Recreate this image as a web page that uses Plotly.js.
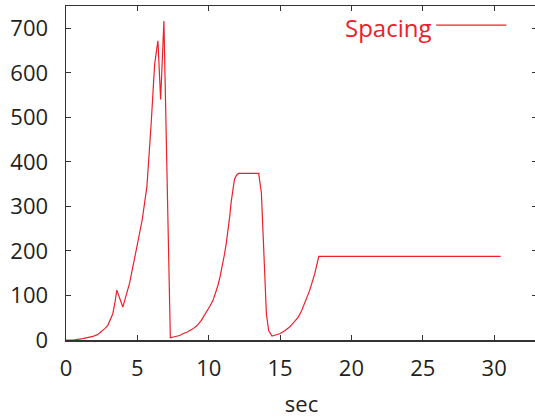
<!DOCTYPE html>
<html>
<head>
<meta charset="utf-8">
<script src="https://cdn.plot.ly/plotly-3.0.1.min.js"></script>
<style>
html,body{margin:0;padding:0;overflow:hidden;background:#fff;}
#chart{width:537px;height:420px;}
</style>
</head>
<body>
<div id="chart"></div>
<script>
// time (sec)
const timeSec = [0, 0.6, 1.18, 1.55, 1.88, 2.2, 2.47, 2.7, 2.93, 3.1, 3.28, 3.42, 3.56, 3.98, 4.45, 4.92, 5.15, 5.34, 5.67, 5.86, 5.97, 6.21, 6.44, 6.63, 6.86, 7.31,
  7.96, 8.19, 8.5, 8.89, 9.2, 9.48, 9.7, 9.95, 10.1, 10.3, 10.5, 10.65, 10.8, 10.99, 11.1, 11.23, 11.35, 11.47, 11.58, 11.7, 11.8, 11.89, 12.0, 12.12, 13.5, 13.69, 13.8, 13.92, 14.04, 14.2, 14.43,
  14.97, 15.3, 15.67, 16.0, 16.26, 16.5, 16.73, 16.9, 17.08, 17.25, 17.43, 17.71, 30.45];
// Spacing values
const spacing = [0, 0.5, 3, 5, 8, 12, 18, 25, 33, 44, 59, 82, 112, 74, 127, 202, 240, 270, 345, 427, 488, 619, 672, 540, 716, 5,
  10, 14, 18, 25, 33, 44, 55, 67, 77, 89, 107, 123, 143, 172, 192, 217, 245, 277, 312, 345, 360, 367, 372, 374, 374, 330, 254, 142, 59, 21, 9,
  14, 20, 29, 40, 51, 65, 82, 96, 112, 130, 149, 188, 188];
const seriesName = 'Spacing';
const xTitle = 'sec';
const yTicks = [0, 100, 200, 300, 400, 500, 600, 700];
const xTicks = [0, 5, 10, 15, 20, 25, 30];

const red = 'rgb(236,32,42)';
const textColor = '#231f20';
const fontFam = '"Open Sans", "Noto Sans", sans-serif';

const trace = {
  x: timeSec, y: spacing, type: 'scatter', mode: 'lines', name: seriesName,
  line: {color: red, width: 1.2}, showlegend: false
};

const layout = {
  width: 537, height: 420,
  margin: {l: 66, r: 0, t: 6, b: 80},
  paper_bgcolor: '#fff', plot_bgcolor: '#fff',
  font: {family: fontFam, size: 22, color: textColor},
  xaxis: {
    range: [0, 33], tickvals: xTicks, ticktext: xTicks.map(String),
    ticks: 'inside', ticklen: 5, tickwidth: 1, tickcolor: '#333',
    showline: true, linecolor: '#333', linewidth: 1.5, mirror: 'ticks',
    showgrid: false, zeroline: false, ticklabelstandoff: 8,
    title: {text: xTitle, font: {family: fontFam, size: 22, color: textColor}, standoff: 15},
    automargin: false
  },
  yaxis: {
    range: [0, 750], tickvals: yTicks, ticktext: yTicks.map(String),
    ticks: 'inside', ticklen: 5, tickwidth: 1, tickcolor: '#333',
    showline: true, linecolor: '#333', linewidth: 1.5, mirror: 'ticks',
    showgrid: false, zeroline: false, ticklabelstandoff: 12,
    automargin: false
  },
  annotations: [{
    xref: 'paper', yref: 'paper', x: 0.779, y: 0.935, xanchor: 'right', yanchor: 'middle',
    text: seriesName, showarrow: false, font: {family: fontFam, size: 24, color: red}
  }],
  shapes: [{
    type: 'line', xref: 'paper', yref: 'paper', x0: 0.786, x1: 0.935, y0: 0.943, y1: 0.943,
    line: {color: red, width: 1.2}
  }]
};

Plotly.newPlot('chart', [trace], layout, {displayModeBar: false, staticPlot: true});
</script>
</body>
</html>
